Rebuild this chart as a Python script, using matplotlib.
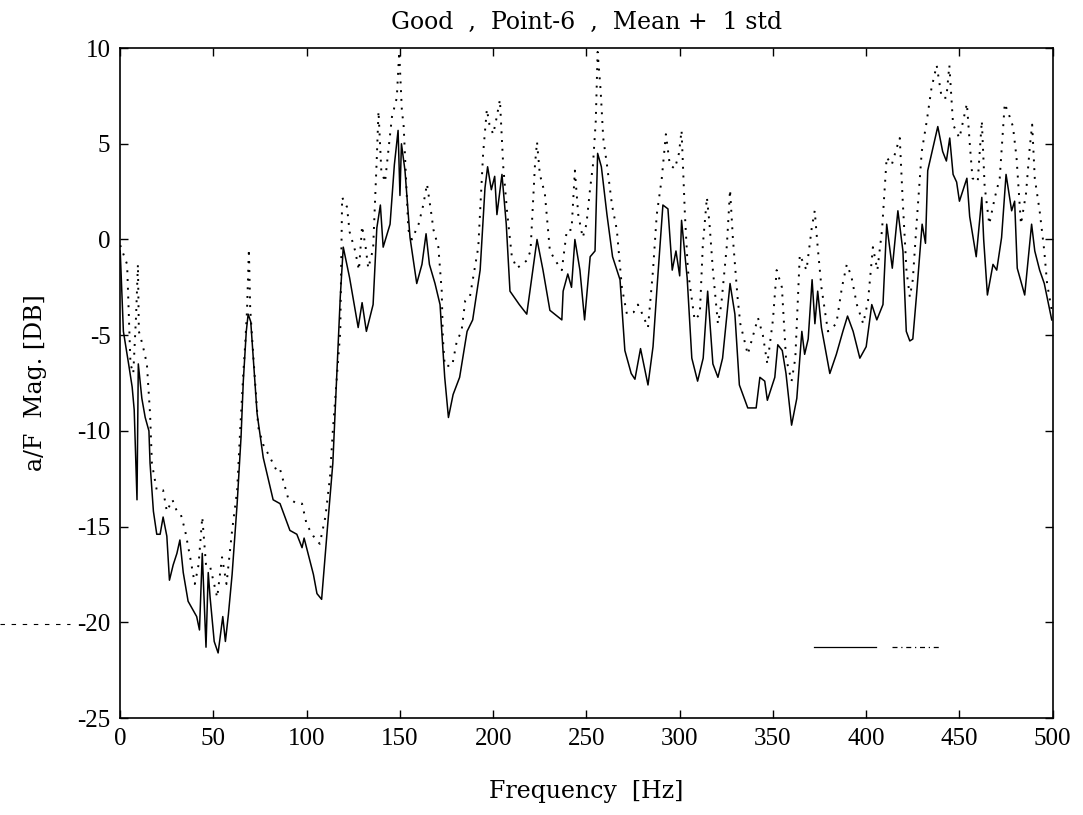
import matplotlib
matplotlib.use("Agg")
import matplotlib.pyplot as plt
from matplotlib.lines import Line2D

plt.rcParams['font.family'] = ['Liberation Serif', 'DejaVu Serif']
plt.rcParams['axes.unicode_minus'] = False

# solid line: mean response
freq_mean = [0, 1.7, 4.5, 6.4, 7.5, 9, 9.7, 11.6, 13.4, 15.4, 16, 17.8, 19.6, 21.4, 23, 25,
             26.4, 28.4, 30.4, 32, 33.8, 36.4, 38.7, 41, 42.5, 44, 46, 47.2, 48.2, 50.4, 52.5,
             55, 56.4, 58, 60, 62.7, 64.8, 66, 67.6, 68.6, 70, 73.4, 76.7, 82, 85.7, 91, 94.7,
             97.5, 98.6, 103.6, 105.5, 108, 111, 114, 118, 119.6, 123, 127.6, 129.7, 132, 135.6,
             137.6, 139.5, 141, 144.7, 147, 149, 150, 150.8, 152.7, 155.4, 159, 161.8, 164, 165.8,
             168.8, 171.5, 174, 176, 178.5, 182, 186, 189, 193, 195.6, 197, 199, 200.8, 202,
             204.7, 207, 209, 214, 218, 223.5, 226.7, 230.4, 236.8, 237.5, 240, 242, 243.8,
             246.5, 249, 252, 254.6, 256, 258, 261, 264, 268, 270.6, 274, 276, 279, 283, 285.7,
             288, 291, 293.7, 296, 298, 300, 301, 304, 306.5, 309.6, 312.6, 315, 317.8, 320.5,
             323, 327, 329.6, 332, 336.5, 341, 343, 345.6, 347, 351, 352.6, 355, 357, 360, 362.8,
             365.5, 367, 368.9, 371, 372.5, 374, 376, 380.5, 384, 387.5, 390, 393, 396.6, 400,
             403, 405.7, 409, 411, 414, 417, 419.7, 421.5, 423.4, 425, 427, 430, 431.8, 433,
             435.8, 438.4, 441, 443, 444.8, 446.6, 448.5, 450, 454, 455.5, 459, 462, 463, 465,
             468, 470, 472.6, 475, 478, 479.6, 481, 485, 488.7, 490.4, 493, 495.5, 499.5]
db_mean = [-0.6, -4.8, -6.5, -7.7, -8.9, -13.6, -6.5, -8.3, -9.3, -10, -11.7, -14.2, -15.4, -15.4,
           -14.5, -15.5, -17.8, -17, -16.4, -15.7, -17.4, -18.9, -19.3, -19.7, -20.4, -16.4, -21.3,
           -17.4, -18.7, -21, -21.6, -19.7, -21, -19.6, -17.5, -13.8, -10.3, -7.4, -4.8, -3.9,
           -4.3, -9.1, -11.4, -13.6, -13.8, -15.2, -15.4, -16.1, -15.6, -17.5, -18.5, -18.8,
           -15.2, -11.7, -3, -0.4, -2, -4.6, -3.3, -4.8, -3.4, 0.6, 1.8, -0.4, 0.8, 3.9, 5.7,
           2.3, 5.0, 3.6, 0.1, -2.3, -1.3, 0.3, -1.3, -2.3, -3.4, -7.2, -9.3, -8.1, -7.2, -4.8,
           -4.2, -1.6, 2.7, 3.8, 2.6, 3.3, 1.3, 3.4, 0.8, -2.7, -3.4, -3.9, 0, -1.6, -3.7, -4.2,
           -2.7, -1.8, -2.5, 0, -1.6, -4.2, -0.9, -0.6, 4.5, 3.8, 1.3, -0.9, -2.1, -5.8, -7,
           -7.3, -5.7, -7.6, -5.6, -2.3, 1.8, 1.6, -1.6, -0.6, -1.9, 1.0, -2, -6.2, -7.4, -6.2,
           -2.7, -6.5, -7.2, -6.2, -2.3, -3.9, -7.6, -8.8, -8.8, -7.2, -7.4, -8.4, -7.2, -5.5,
           -5.8, -7, -9.7, -8.3, -4.8, -6, -5.2, -2.1, -4.4, -2.7, -4.6, -7, -6, -4.8, -4, -4.8,
           -6.2, -5.6, -3.4, -4.2, -3.4, 0.8, -1.5, 1.5, -0.6, -4.8, -5.3, -5.2, -2.9, 0.8,
           -0.2, 3.6, 4.8, 5.9, 4.6, 4.1, 5.3, 3.4, 3.0, 2.0, 3.2, 1.2, -0.9, 2.2, 0, -2.9,
           -1.3, -1.6, 0.1, 3.4, 1.5, 2.0, -1.5, -2.9, 0.8, -0.6, -1.6, -2.3, -4.2]

# dotted line: mean + 1 std
freq_std = [0, 3.7, 5.5, 7, 8.5, 9.5, 10, 12, 14.3, 16, 17, 19.6, 23, 25, 28, 30.4, 32.6, 34.8,
            37.5, 40, 42, 44, 46, 48, 52, 54.6, 57, 60, 62.7, 64.3, 66, 67, 68, 69, 69.7, 71.3,
            74, 76.6, 80.4, 84, 85.7, 90, 94.7, 97.5, 100, 103.6, 107, 110, 112.5, 114, 116,
            118, 119, 121.6, 123, 126, 128, 129.7, 131.6, 133, 135.6, 137.6, 138.5, 140, 142,
            145.7, 148.3, 149.6, 151, 152, 154.5, 156.4, 160, 162.5, 164.5, 166.6, 168, 170.6,
            172.4, 173, 174, 178, 180.5, 183, 185, 187.5, 192, 194.6, 196.6, 198, 200, 201.7,
            203.6, 204.7, 205.4, 207.4, 210, 212.7, 218, 220, 222.4, 223.5, 225, 227.7, 230.4,
            234, 236.8, 239.5, 242, 243.8, 245.6, 248, 250, 251.9, 253.5, 255, 256, 257.6, 259,
            261, 263.7, 266.3, 269, 271.7, 275.3, 277.6, 280, 283, 285.7, 287.7, 290.4, 292.6,
            294.7, 297.4, 299.6, 301, 302.8, 304.4, 308, 310.8, 312.4, 314.6, 316, 317.8, 320.5,
            322.3, 325.3, 327, 328.5, 331, 332.5, 336.5, 342, 344.6, 347, 350, 352, 354.8, 357,
            360, 362, 364.4, 368, 370.8, 372.4, 374, 376, 379.5, 384, 387, 389.6, 392, 395,
            398.4, 401, 403.6, 406, 408.5, 411, 413.7, 416.4, 418, 419.6, 421.6, 423.4, 425,
            427, 429.8, 432.5, 435, 437.8, 440.5, 443, 444.6, 446.6, 450, 454, 455.7, 457,
            459.8, 462, 463.5, 466, 469, 471.6, 474.3, 477, 478.7, 480.6, 483, 485.7, 487.7,
            489, 490.4, 493, 495.5, 497, 499.5]
db_std = [-0.3, -1.3, -6.5, -7, -4, -1.3, -4.8, -5.5, -6.5, -9.1, -11.7, -13.1, -13.1, -14.2,
          -13.6, -14.2, -14.4, -15.2, -16.6, -18, -17, -14.5, -17, -17, -18.7, -16.6, -18,
          -15.2, -13.1, -10, -7, -5.5, -3.7, -0.5, -3.6, -6, -9.8, -10.7, -11.4, -12.1, -12.0,
          -13.5, -13.8, -13.8, -14.9, -15.5, -15.9, -14.5, -12.4, -10, -7.4, -4.8, 2.2, 1.7,
          0.4, -0.6, -1.6, 0.7, -0.4, -1.5, -0.5, 4.3, 6.7, 3.6, 3, 6.4, 7.4, 9.8, 6.8, 5.9,
          0.5, 0, 0.8, 1.8, 2.9, 1.5, 0.5, -0.4, -2.7, -5.1, -6.6, -6.6, -5.3, -4.8, -3.2,
          -3.0, -0.4, 4.5, 6.8, 6, 5.5, 6.3, 7.3, 5.2, 3.8, 1.5, -0.9, -1.5, -1.1, -0.6, 3.9,
          5.1, 3.4, 2.4, -0.6, -1.2, -1.6, 0.5, 0.5, 3.6, 1.3, 0.1, 0.8, 2.6, 3.9, 6.2, 9.8,
          7.8, 5.3, 3.9, 1.8, 0.5, -2.5, -3.9, -3.8, -3.4, -3.9, -4.6, -1.6, 1.3, 3.2, 5.5,
          3.9, 3.7, 4.5, 5.7, 1.3, -1.6, -4.2, -3.9, -0.3, 2.2, 0.8, -1.6, -4.4, -3.4, -0.3,
          2.6, 0.1, -3.0, -4.4, -6.0, -4.1, -5, -6.5, -4.2, -1.6, -2.5, -6.2, -7.4, -6.2,
          -0.8, -1.6, 0.6, 1.5, -0.4, -2.5, -4.8, -4.4, -2.5, -1.3, -1.9, -3.4, -4.4, -3.2,
          -0.4, -1.6, 0.5, 4.3, 3.9, 4.8, 5.3, 2.0, -1.6, -3.0, -2.1, 0.8, 4.6, 6.2, 7.9, 9.1,
          7.4, 7.4, 9.1, 6.0, 5.3, 7.1, 4.8, 3.2, 3.0, 6.2, 2.8, 0.8, 2.2, 3.2, 7.1, 6.4, 5.9,
          4.3, 0.8, 2.4, 4.8, 6.0, 3.2, 1.5, -0.6, -2.3, -3.7]

# leftover legend stub near the bottom right
stub_solid_x = [372, 405]
stub_dash_x = [414, 440]
stub_y = [-21.3, -21.3]

x_ticks = [0, 50, 100, 150, 200, 250, 300, 350, 400, 450, 500]
y_ticks = [-25, -20, -15, -10, -5, 0, 5, 10]

fig = plt.figure(figsize=(10.83, 8.15), dpi=100)
ax = fig.add_axes([0.111, 0.119, 0.861, 0.822])

ax.plot(freq_mean, db_mean, color="black", linewidth=1.1)
ax.plot(freq_std, db_std, color="black", linewidth=1.4, linestyle=(0, (1, 3.5)))
ax.plot(stub_solid_x, stub_y, color="black", linewidth=0.9)
ax.plot(stub_dash_x, stub_y, color="black", linewidth=0.9, linestyle=(0, (4, 3, 1, 3)))

ax.set_xlim(0, 500)
ax.set_ylim(-25, 10)
ax.set_xticks(x_ticks)
ax.set_yticks(y_ticks)
ax.tick_params(direction="in", top=True, right=True, length=6, width=1,
               labelsize=18, pad=7)
for s in ax.spines.values():
    s.set_linewidth(1.2)

lab_font = dict(family=['DejaVu Serif'], fontsize=17)
ax.set_title("Good  ,  Point-6  ,  Mean +  1 std", pad=14, **lab_font)
ax.set_xlabel("Frequency  [Hz]", labelpad=22, **lab_font)
ax.set_ylabel("a/F  Mag. [DB]", labelpad=22, **lab_font)

# stray scan dash at the far left
fig.add_artist(Line2D([0.0, 0.065], [0.234, 0.234], color="black", linewidth=0.8,
                      linestyle=(0, (4, 6))))

fig.savefig("out.png", dpi=100)
